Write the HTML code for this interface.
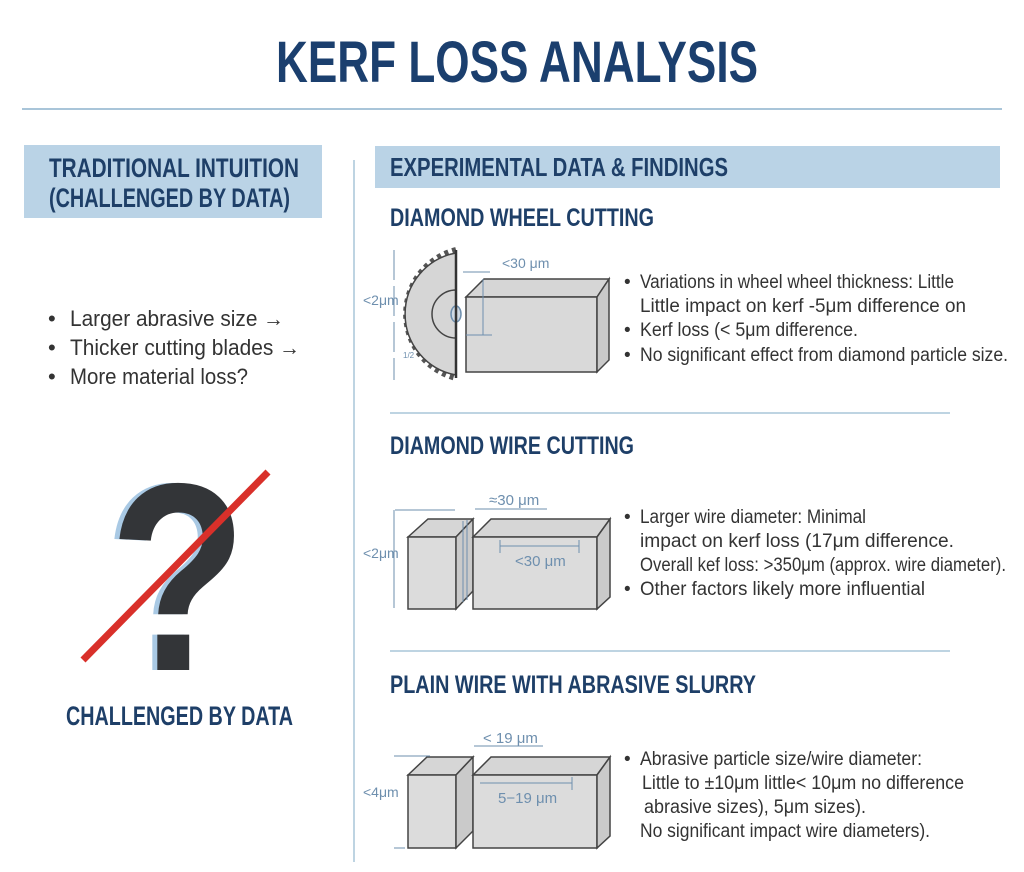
<!DOCTYPE html>
<html><head><meta charset="utf-8"><style>
html,body{margin:0;padding:0;background:#fff;width:1024px;height:872px;overflow:hidden}
svg{position:absolute;left:0;top:0}
</style></head><body>
<svg width="1024" height="872" viewBox="0 0 1024 872" xmlns="http://www.w3.org/2000/svg" font-family="'Liberation Sans Narrow','Liberation Sans',sans-serif">
<rect width="1024" height="872" fill="#fff"/>
<text x="517" y="82" text-anchor="middle" font-size="58" font-weight="bold" fill="#1b3f6e" textLength="482" lengthAdjust="spacingAndGlyphs">KERF LOSS ANALYSIS</text>
<line x1="22" y1="109" x2="1002" y2="109" stroke="#a9c5d9" stroke-width="2"/>
<rect x="24" y="145" width="298" height="73" fill="#bad3e6"/>
<g font-size="27" fill="#1e3f68" font-weight="bold">
<text x="49" y="177" textLength="250" lengthAdjust="spacingAndGlyphs">TRADITIONAL INTUITION</text>
<text x="49" y="207" textLength="241" lengthAdjust="spacingAndGlyphs">(CHALLENGED BY DATA)</text>
</g>
<line x1="354" y1="160" x2="354" y2="862" stroke="#a9c5d9" stroke-width="1.5"/>
<g font-size="22" fill="#333">
<text x="48" y="326">•</text><text x="70" y="326" textLength="214" lengthAdjust="spacingAndGlyphs">Larger abrasive size →</text>
<text x="48" y="355">•</text><text x="70" y="355" textLength="230" lengthAdjust="spacingAndGlyphs">Thicker cutting blades →</text>
<text x="48" y="384">•</text><text x="70" y="384" textLength="178" lengthAdjust="spacingAndGlyphs">More material loss?</text>
</g>
<text x="104" y="670" font-family="'Liberation Sans',sans-serif" font-size="268" font-weight="bold" fill="#a9c9e4" textLength="138" lengthAdjust="spacingAndGlyphs">?</text>
<text x="109" y="670" font-family="'Liberation Sans',sans-serif" font-size="268" font-weight="bold" fill="#333538" textLength="138" lengthAdjust="spacingAndGlyphs">?</text>
<line x1="83" y1="660" x2="268" y2="472" stroke="#d9302a" stroke-width="7"/>
<text x="66" y="725" font-size="27" font-weight="bold" fill="#1e3f68" textLength="227" lengthAdjust="spacingAndGlyphs">CHALLENGED BY DATA</text>
<rect x="375" y="146" width="625" height="42" fill="#bad3e6"/>
<text x="390" y="176" font-size="26" font-weight="bold" fill="#1e3f68" textLength="338" lengthAdjust="spacingAndGlyphs">EXPERIMENTAL DATA &amp; FINDINGS</text>
<g font-size="25" fill="#1e3f68" font-weight="bold">
<text x="390" y="226" textLength="264" lengthAdjust="spacingAndGlyphs">DIAMOND WHEEL CUTTING</text>
<text x="390" y="454" textLength="244" lengthAdjust="spacingAndGlyphs">DIAMOND WIRE CUTTING</text>
<text x="390" y="693" textLength="366" lengthAdjust="spacingAndGlyphs">PLAIN WIRE WITH ABRASIVE SLURRY</text>
</g>
<line x1="390" y1="413" x2="950" y2="413" stroke="#a9c5d9" stroke-width="1.5"/>
<line x1="390" y1="651" x2="950" y2="651" stroke="#a9c5d9" stroke-width="1.5"/>
<g font-size="19" fill="#333">
<text x="624" y="288">•</text><text x="640" y="288" textLength="314" lengthAdjust="spacingAndGlyphs">Variations in wheel wheel thickness: Little</text>
<text x="640" y="312" textLength="326" lengthAdjust="spacingAndGlyphs">Little impact on kerf -5μm difference on</text>
<text x="624" y="336">•</text><text x="640" y="336" textLength="218" lengthAdjust="spacingAndGlyphs">Kerf loss (&lt; 5μm difference.</text>
<text x="624" y="361">•</text><text x="640" y="361" textLength="368" lengthAdjust="spacingAndGlyphs">No significant effect from diamond particle size.</text>
<text x="624" y="523">•</text><text x="640" y="523" textLength="226" lengthAdjust="spacingAndGlyphs">Larger wire diameter: Minimal</text>
<text x="640" y="547" textLength="314" lengthAdjust="spacingAndGlyphs">impact on  kerf loss     (17μm difference.</text>
<text x="640" y="571" textLength="366" lengthAdjust="spacingAndGlyphs">Overall kef loss: &gt;350μm (approx. wire diameter).</text>
<text x="624" y="595">•</text><text x="640" y="595" textLength="285" lengthAdjust="spacingAndGlyphs">Other factors likely more influential</text>
<text x="624" y="765">•</text><text x="640" y="765" textLength="282" lengthAdjust="spacingAndGlyphs">Abrasive particle size/wire diameter:</text>
<text x="642" y="789" textLength="322" lengthAdjust="spacingAndGlyphs">Little to ±10μm little&lt; 10μm no difference</text>
<text x="644" y="813" textLength="222" lengthAdjust="spacingAndGlyphs">abrasive sizes), 5μm sizes).</text>
<text x="640" y="837" textLength="290" lengthAdjust="spacingAndGlyphs">No significant impact wire diameters).</text>
</g>
<path d="M456 250 A66 66 0 0 0 456 378" fill="none" stroke="#555" stroke-width="6" stroke-dasharray="4 4"/>
<g stroke="#444" stroke-width="1.5" fill="#dcdcdc">
<path d="M456 253 A62 62 0 0 0 456 375 Z" fill="#d6d6d6"/>
<path d="M456 290 A24 24 0 0 0 456 338" fill="none"/>
<ellipse cx="456" cy="314" rx="5" ry="8" fill="#cfd9e3" stroke="#6e8fae"/>
<line x1="456" y1="250" x2="456" y2="378" stroke="#333" stroke-width="2.5"/>
<polygon points="466,297 484,279 609,279 597,297" fill="#d6d6d6"/>
<rect x="466" y="297" width="131" height="75" fill="#d9d9d9"/>
<polygon points="597,297 609,279 609,360 597,372" fill="#c9c9c9"/>
</g>
<g stroke="#6e8fae" stroke-width="1" fill="#6e8fae">
<line x1="394" y1="250" x2="394" y2="380" stroke-dasharray="30 6"/>
<line x1="483" y1="279" x2="483" y2="335"/><line x1="466" y1="335" x2="492" y2="335"/>
<line x1="463" y1="272" x2="490" y2="272"/>
</g>
<g font-family="'Liberation Sans',sans-serif" fill="#6e8fae">
<text x="363" y="305" font-size="14">&lt;2μm</text>
<text x="502" y="268" font-size="14">&lt;30 μm</text>
<text x="403" y="358" font-size="8">1/2</text>
</g>
<g stroke="#444" stroke-width="1.5" fill="#dcdcdc">
<polygon points="408,537 428,519 473,519 456,537" fill="#d6d6d6"/>
<rect x="408" y="537" width="48" height="72"/>
<polygon points="456,537 473,519 473,591 456,609" fill="#cacaca"/>
<polygon points="473,537 491,519 610,519 597,537" fill="#d6d6d6"/>
<rect x="473" y="537" width="124" height="72"/>
<polygon points="597,537 610,519 610,597 597,609" fill="#cacaca"/>
</g>
<g stroke="#6e8fae" stroke-width="1" fill="none">
<line x1="463" y1="521" x2="463" y2="602"/><line x1="467" y1="520" x2="467" y2="600"/>
<line x1="395" y1="510" x2="455" y2="510"/><line x1="394" y1="510" x2="394" y2="608"/>
<line x1="475" y1="509" x2="547" y2="509"/>
<line x1="500" y1="546" x2="579" y2="546"/><line x1="500" y1="540" x2="500" y2="553"/><line x1="579" y1="540" x2="579" y2="553"/>
</g>
<g font-family="'Liberation Sans',sans-serif" fill="#6e8fae" font-size="15">
<text x="363" y="558" font-size="14">&lt;2μm</text>
<text x="489" y="505">≈30 μm</text>
<text x="515" y="566">&lt;30 μm</text>
</g>
<g stroke="#444" stroke-width="1.5" fill="#dcdcdc">
<polygon points="408,775 427,757 473,757 456,775" fill="#d6d6d6"/>
<rect x="408" y="775" width="48" height="73"/>
<polygon points="456,775 473,757 473,831 456,848" fill="#cacaca"/>
<polygon points="473,775 491,757 610,757 597,775" fill="#d6d6d6"/>
<rect x="473" y="775" width="124" height="73"/>
<polygon points="597,775 610,757 610,836 597,848" fill="#cacaca"/>
</g>
<g stroke="#6e8fae" stroke-width="1" fill="none">
<line x1="394" y1="756" x2="430" y2="756"/><line x1="394" y1="848" x2="405" y2="848"/>
<line x1="474" y1="746" x2="543" y2="746"/>
<line x1="480" y1="783" x2="572" y2="783"/><line x1="572" y1="777" x2="572" y2="790"/>
</g>
<g font-family="'Liberation Sans',sans-serif" fill="#6e8fae" font-size="15">
<text x="363" y="797" font-size="14">&lt;4μm</text>
<text x="483" y="743">&lt; 19 μm</text>
<text x="498" y="803">5−19 μm</text>
</g>
</svg>
</body></html>
